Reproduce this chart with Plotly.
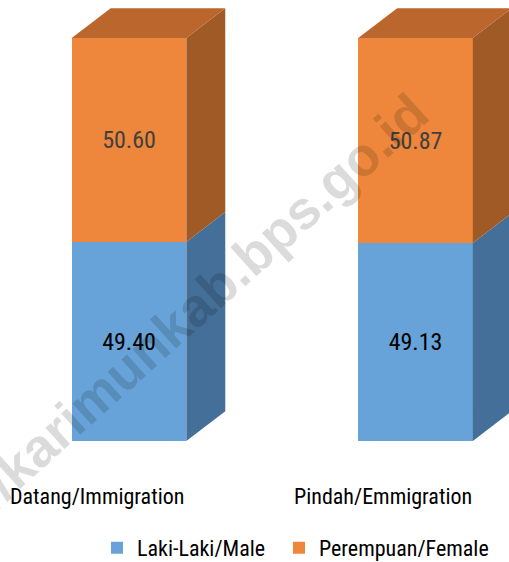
import plotly.graph_objects as go

categories = ["Datang/Immigration", "Pindah/Emmigration"]
male = [49.40, 49.13]
female = [50.60, 50.87]
series_names = ["Laki-Laki/Male", "Perempuan/Female"]
watermark = "https://karimunkab.bps.go.id"

FONT = "Roboto Condensed, Liberation Sans Narrow, sans-serif"
BLUE, BLUE_SIDE = "#67a3d8", "#446f98"
ORANGE, ORANGE_SIDE, ORANGE_TOP = "#ee873b", "#a05a26", "#ba662c"

W = 0.2  # half width of the front face
DX, DY = 0.136, 7.4  # depth offset of the 3D bars


def face(xs, ys, color):
    return go.Scatter(
        x=xs, y=ys, fill="toself", fillcolor=color, mode="lines",
        line={"width": 0, "color": color}, showlegend=False, hoverinfo="skip",
    )


xpos = list(range(len(categories)))
fig = go.Figure()

# side and top faces, derived from the stacked values
for i, (m, f) in enumerate(zip(male, female)):
    r = i + W
    fig.add_trace(face([r, r + DX, r + DX, r, r], [0, DY, m + DY, m, 0], BLUE_SIDE))
    top = m + f
    fig.add_trace(face([r, r + DX, r + DX, r, r], [m, m + DY, top + DY, top, m], ORANGE_SIDE))
    fig.add_trace(face([i - W, i - W + DX, r + DX, r, i - W],
                       [top, top + DY, top + DY, top, top], ORANGE_TOP))

fig.add_trace(go.Bar(
    x=xpos, y=male, name=series_names[0], width=2 * W, marker_color=BLUE,
    marker_line_width=0, text=[f"{v:.2f}" for v in male], textposition="inside",
    insidetextanchor="middle", textfont={"size": 24, "color": "#000000", "family": FONT},
    legend="legend",
))
fig.add_trace(go.Bar(
    x=xpos, y=female, name=series_names[1], width=2 * W, marker_color=ORANGE,
    marker_line_width=0, text=[f"{v:.2f}" for v in female], textposition="inside",
    insidetextanchor="middle", textfont={"size": 24, "color": "#404040", "family": FONT},
    legend="legend2",
))

for i, cat in enumerate(categories):
    fig.add_annotation(
        x=i, y=-0.08, xref="x", yref="paper", text=cat, showarrow=False,
        xanchor="center", yanchor="middle", xshift=-32.5,
        font={"size": 22, "color": "#000000", "family": FONT},
    )

# watermark
fig.add_annotation(
    x=145 / 509, y=1 - 351 / 460, xref="paper", yref="paper", text=watermark,
    showarrow=False, textangle=-42, xanchor="center", yanchor="middle",
    font={"size": 54, "color": "rgba(0,0,0,0.14)", "family": "Liberation Sans, Arial, sans-serif",
          "weight": "bold"},
)

legend_style = {
    "orientation": "h", "xanchor": "left", "yref": "container", "y": 0.025,
    "yanchor": "middle", "font": {"size": 22, "color": "#000000", "family": FONT},
}

fig.update_layout(
    width=509, height=562, barmode="stack", bargap=0,
    margin={"l": 0, "r": 0, "t": 0, "b": 102},
    paper_bgcolor="white", plot_bgcolor="white",
    xaxis={"range": [-0.4503, 1.3263], "visible": False},
    yaxis={"range": [-4.71, 109.43], "visible": False},
    showlegend=True,
    legend={**legend_style, "x": 97 / 509},
    legend2={**legend_style, "x": 279 / 509},
)

fig.write_html("out.html", config={"displayModeBar": False},
               post_script="document.body.style.margin='0';")
